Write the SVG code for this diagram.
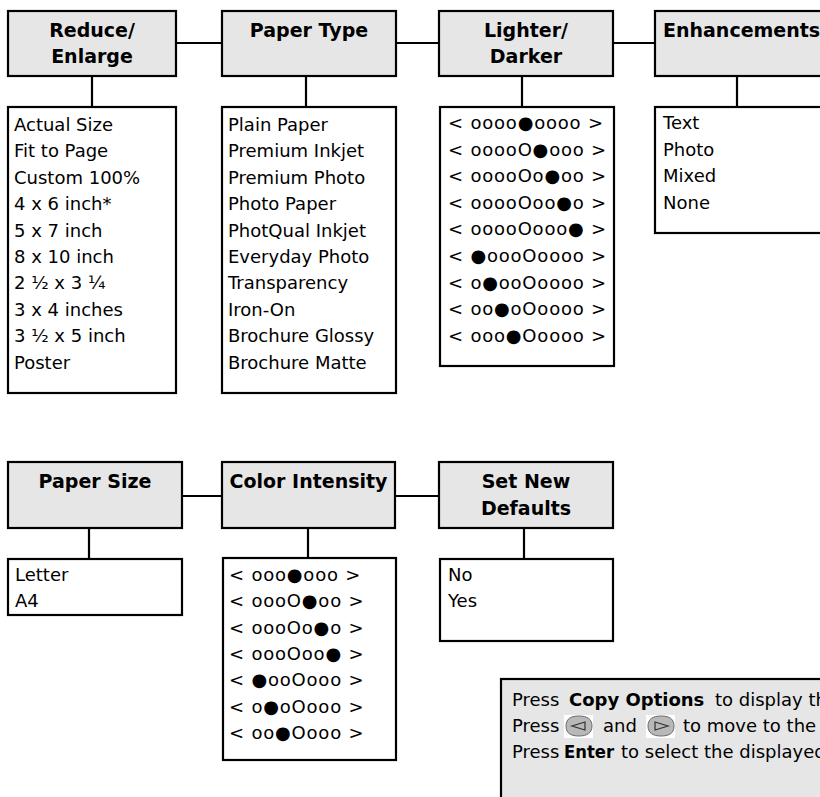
<svg xmlns="http://www.w3.org/2000/svg" width="820" height="797" viewBox="0 0 820 797">
<style>
.hdr{fill:#e6e6e6;stroke:#000;stroke-width:2.2}
.lst{fill:#fff;stroke:#000;stroke-width:2.2}
.ht{font-family:"DejaVu Sans","Liberation Sans",sans-serif;font-weight:bold;font-size:19px;fill:#000;text-anchor:middle}
.t{font-family:"DejaVu Sans","Liberation Sans",sans-serif;font-size:18px;fill:#000}
.d{letter-spacing:0.8px}
.b{font-weight:bold}
.c line{stroke:#000;stroke-width:2.2}
.btn{fill:#b8b8b8;stroke:#6a6a6a;stroke-width:1}
.arr{fill:none;stroke:#333;stroke-width:1.2}
</style>
<rect width="820" height="797" fill="#fff"/>
<g class="c" id="connectors">
<line x1="176" y1="43" x2="222" y2="43"/>
<line x1="396" y1="43" x2="439" y2="43"/>
<line x1="613" y1="43" x2="655" y2="43"/>
<line x1="92" y1="76" x2="92" y2="107"/>
<line x1="306" y1="76" x2="306" y2="107"/>
<line x1="522" y1="76" x2="522" y2="107"/>
<line x1="737" y1="76" x2="737" y2="107"/>
<line x1="182" y1="496" x2="222" y2="496"/>
<line x1="395" y1="496" x2="439" y2="496"/>
<line x1="89" y1="528" x2="89" y2="559"/>
<line x1="308" y1="528" x2="308" y2="558"/>
<line x1="524" y1="528" x2="524" y2="559"/>
</g>
<g id="reduce-enlarge">
<rect class="hdr" x="8" y="11" width="168" height="65"/>
<text class="ht" x="92" y="37">Reduce/</text>
<text class="ht" x="92" y="63">Enlarge</text>
</g>
<g id="reduce-list">
<rect class="lst" x="8" y="107" width="168" height="286"/>
<text class="t" x="14">
<tspan x="14" y="131">Actual Size</tspan>
<tspan x="14" y="157.4">Fit to Page</tspan>
<tspan x="14" y="183.8">Custom 100%</tspan>
<tspan x="14" y="210.2">4 x 6 inch*</tspan>
<tspan x="14" y="236.6">5 x 7 inch</tspan>
<tspan x="14" y="263">8 x 10 inch</tspan>
<tspan x="14" y="289.4">2 ½ x 3 ¼</tspan>
<tspan x="14" y="315.8">3 x 4 inches</tspan>
<tspan x="14" y="342.2">3 ½ x 5 inch</tspan>
<tspan x="14" y="368.6">Poster</tspan>
</text>
</g>
<g id="paper-type">
<rect class="hdr" x="222" y="11" width="174" height="65"/>
<text class="ht" x="309" y="37">Paper Type</text>
</g>
<g id="paper-type-list">
<rect class="lst" x="222" y="107" width="174" height="286"/>
<text class="t">
<tspan x="228" y="131">Plain Paper</tspan>
<tspan x="228" y="157.4">Premium Inkjet</tspan>
<tspan x="228" y="183.8">Premium Photo</tspan>
<tspan x="228" y="210.2">Photo Paper</tspan>
<tspan x="228" y="236.6">PhotQual Inkjet</tspan>
<tspan x="228" y="263">Everyday Photo</tspan>
<tspan x="228" y="289.4">Transparency</tspan>
<tspan x="228" y="315.8">Iron-On</tspan>
<tspan x="228" y="342.2">Brochure Glossy</tspan>
<tspan x="228" y="368.6">Brochure Matte</tspan>
</text>
</g>
<g id="lighter-darker">
<rect class="hdr" x="439" y="11" width="174" height="65"/>
<text class="ht" x="526" y="37">Lighter/</text>
<text class="ht" x="526" y="63">Darker</text>
</g>
<g id="lighter-darker-list">
<rect class="lst" x="440" y="107" width="174" height="259"/>
<text class="t d">
<tspan x="448" y="129">&lt; oooo●oooo &gt;</tspan>
<tspan x="448" y="155.6">&lt; ooooO●ooo &gt;</tspan>
<tspan x="448" y="182.2">&lt; ooooOo●oo &gt;</tspan>
<tspan x="448" y="208.8">&lt; ooooOoo●o &gt;</tspan>
<tspan x="448" y="235.4">&lt; ooooOooo● &gt;</tspan>
<tspan x="448" y="262">&lt; ●oooOoooo &gt;</tspan>
<tspan x="448" y="288.6">&lt; o●ooOoooo &gt;</tspan>
<tspan x="448" y="315.2">&lt; oo●oOoooo &gt;</tspan>
<tspan x="448" y="341.8">&lt; ooo●Ooooo &gt;</tspan>
</text>
</g>
<g id="enhancements">
<rect class="hdr" x="655" y="11" width="180" height="65"/>
<text class="ht" x="663" y="37" style="text-anchor:start">Enhancements</text>
</g>
<g id="enhancements-list">
<rect class="lst" x="655" y="107" width="180" height="126"/>
<text class="t">
<tspan x="663" y="129">Text</tspan>
<tspan x="663" y="155.6">Photo</tspan>
<tspan x="663" y="182.2">Mixed</tspan>
<tspan x="663" y="208.8">None</tspan>
</text>
</g>
<g id="paper-size">
<rect class="hdr" x="8" y="462" width="174" height="66"/>
<text class="ht" x="95" y="488">Paper Size</text>
</g>
<g id="paper-size-list">
<rect class="lst" x="8" y="559" width="174" height="56"/>
<text class="t">
<tspan x="15" y="581">Letter</tspan>
<tspan x="15" y="607">A4</tspan>
</text>
</g>
<g id="color-intensity">
<rect class="hdr" x="222" y="462" width="173" height="66"/>
<text class="ht" x="308.5" y="488">Color Intensity</text>
</g>
<g id="color-intensity-list">
<rect class="lst" x="223" y="558" width="173" height="202"/>
<text class="t d">
<tspan x="229" y="581">&lt; ooo●ooo &gt;</tspan>
<tspan x="229" y="607.3">&lt; oooO●oo &gt;</tspan>
<tspan x="229" y="633.6">&lt; oooOo●o &gt;</tspan>
<tspan x="229" y="659.9">&lt; oooOoo● &gt;</tspan>
<tspan x="229" y="686.2">&lt; ●ooOooo &gt;</tspan>
<tspan x="229" y="712.5">&lt; o●oOooo &gt;</tspan>
<tspan x="229" y="738.8">&lt; oo●Oooo &gt;</tspan>
</text>
</g>
<g id="set-new-defaults">
<rect class="hdr" x="439" y="462" width="174" height="66"/>
<text class="ht" x="526" y="488">Set New</text>
<text class="ht" x="526" y="515">Defaults</text>
</g>
<g id="set-new-defaults-list">
<rect class="lst" x="440" y="559" width="173" height="82"/>
<text class="t">
<tspan x="448" y="581">No</tspan>
<tspan x="448" y="607">Yes</tspan>
</text>
</g>
<g id="instructions">
<rect class="hdr" x="501" y="679" width="340" height="140"/>
<text class="t" y="706"><tspan x="512">Press</tspan><tspan class="b" x="569">Copy Options</tspan><tspan x="715">to display the</tspan></text>
<text class="t" y="732"><tspan x="512">Press</tspan><tspan x="603">and</tspan><tspan x="683">to move to the</tspan></text>
<text class="t" y="758"><tspan x="512">Press</tspan><tspan class="b" x="564" textLength="50" lengthAdjust="spacingAndGlyphs">Enter</tspan><tspan x="621">to select the displayed</tspan></text>
<g id="btn-left">
<rect x="564" y="715" width="29" height="23" fill="#fff"/>
<path class="btn" d="M566,726 C566,718 572,716 579,716 C587,716 592,719 592,726 C592,733 587,736 579,736 C572,736 566,734 566,726 Z"/>
<path class="arr" d="M585,722 L572,726 L585,730 Z"/>
</g>
<g id="btn-right">
<rect x="646" y="715" width="29" height="23" fill="#fff"/>
<path class="btn" d="M648,726 C648,719 653,716 661,716 C668,716 674,718 674,726 C674,734 668,736 661,736 C653,736 648,733 648,726 Z"/>
<path class="arr" d="M655,722 L668,726 L655,730 Z"/>
</g>
</g>
</svg>
